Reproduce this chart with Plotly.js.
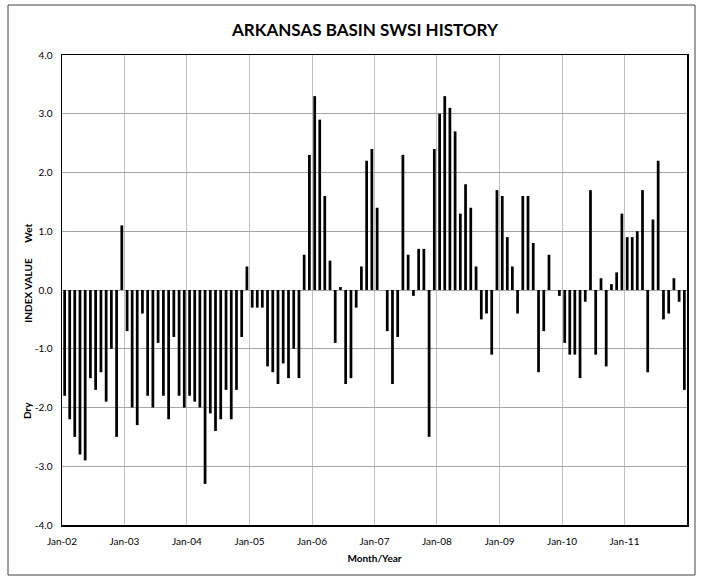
<!DOCTYPE html>
<html>
<head>
<meta charset="utf-8">
<script src="https://cdn.plot.ly/plotly-3.0.1.min.js"></script>
<style>
  html, body { margin: 0; padding: 0; background: #ffffff; }
  #chart { width: 702px; height: 581px; }
</style>
</head>
<body>
<div id="chart"></div>
<script>
// Monthly SWSI values, January..December of each year
var swsi2002 = [-1.8, -2.2, -2.5, -2.8, -2.9, -1.5, -1.7, -1.4, -1.9, -1.0, -2.5, 1.1];
var swsi2003 = [-0.7, -2.0, -2.3, -0.4, -1.8, -2.0, -0.9, -1.8, -2.2, -0.8, -1.8, -2.0];
var swsi2004 = [-1.8, -1.9, -2.0, -3.3, -2.1, -2.4, -2.2, -1.7, -2.2, -1.7, -0.8, 0.4];
var swsi2005 = [-0.3, -0.3, -0.3, -1.3, -1.4, -1.6, -1.25, -1.5, -1.0, -1.5, 0.6, 2.3];
var swsi2006 = [3.3, 2.9, 1.6, 0.5, -0.9, 0.05, -1.6, -1.5, -0.3, 0.4, 2.2, 2.4];
var swsi2007 = [1.4, 0.0, -0.7, -1.6, -0.8, 2.3, 0.6, -0.1, 0.7, 0.7, -2.5, 2.4];
var swsi2008 = [3.0, 3.3, 3.1, 2.7, 1.3, 1.8, 1.4, 0.4, -0.5, -0.4, -1.1, 1.7];
var swsi2009 = [1.6, 0.9, 0.4, -0.4, 1.6, 1.6, 0.8, -1.4, -0.7, 0.6, 0.0, -0.1];
var swsi2010 = [-0.9, -1.1, -1.1, -1.5, -0.2, 1.7, -1.1, 0.2, -1.3, 0.1, 0.3, 1.3];
var swsi2011 = [0.9, 0.9, 1.0, 1.7, -1.4, 1.2, 2.2, -0.5, -0.4, 0.2, -0.2, -1.7];

var years = [2002, 2003, 2004, 2005, 2006, 2007, 2008, 2009, 2010, 2011];
var monthNums = ["01","02","03","04","05","06","07","08","09","10","11","12"];
var tickLabels = ["Jan-02","Jan-03","Jan-04","Jan-05","Jan-06","Jan-07","Jan-08","Jan-09","Jan-10","Jan-11"];
var yTickLabels = ["-4.0","-3.0","-2.0","-1.0","0.0","1.0","2.0","3.0","4.0"];
var yTickVals = [-4, -3, -2, -1, 0, 1, 2, 3, 4];

var yearSeries = [swsi2002, swsi2003, swsi2004, swsi2005, swsi2006, swsi2007, swsi2008, swsi2009, swsi2010, swsi2011];

var xs = [], ys = [];
years.forEach(function (yr, i) {
  monthNums.forEach(function (m, j) {
    xs.push(yr + "-" + m + "-01");
    ys.push(yearSeries[i][j]);
  });
});
var tickVals = years.map(function (yr) { return yr + "-01-01"; });

var FONT = "Lato, Open Sans, Liberation Sans, Arial, sans-serif";

var trace = {
  type: "bar",
  x: xs,
  y: ys,
  xperiod: "M1",
  xperiodalignment: "middle",
  width: 16 * 24 * 3600 * 1000,
  marker: { color: "#000000", line: { width: 0 } },
  hoverinfo: "x+y"
};

var layout = {
  width: 702,
  height: 581,
  margin: { l: 62, r: 15, t: 55, b: 56 },
  paper_bgcolor: "#ffffff",
  plot_bgcolor: "#ffffff",
  showlegend: false,
  font: { family: FONT, size: 10, color: "#000000" },
  title: {
    text: "<b>ARKANSAS BASIN SWSI HISTORY</b>",
    font: { family: FONT, size: 17, color: "#000000" },
    x: 365 / 702, xref: "container", xanchor: "center",
    y: 1 - 30 / 581, yref: "container", yanchor: "middle"
  },
  xaxis: {
    type: "date",
    range: ["2002-01-01", "2012-01-01"],
    tickvals: tickVals,
    ticktext: tickLabels,
    tickfont: { family: FONT, size: 10 },
    showgrid: true,
    gridcolor: "#c0c0c0",
    gridwidth: 1,
    ticks: "",
    ticklabelstandoff: 6,
    showline: true,
    linecolor: "#000000",
    linewidth: 1.5,
    mirror: true,
    zeroline: false,
    title: { text: "<b>Month/Year</b>", font: { family: FONT, size: 10 }, standoff: 9 }
  },
  yaxis: {
    range: [-4, 4],
    tickvals: yTickVals,
    ticktext: yTickLabels,
    tickfont: { family: FONT, size: 10 },
    showgrid: true,
    gridcolor: "#a6a6a6",
    gridwidth: 1,
    ticks: "",
    ticklabelstandoff: 6,
    showline: true,
    linecolor: "#000000",
    linewidth: 1.5,
    mirror: true,
    zeroline: false
  },
  annotations: [
    { text: "<b>Dry</b>", xref: "paper", yref: "y", x: -0.055, y: -2.05, textangle: -90,
      showarrow: false, xanchor: "center", yanchor: "middle", font: { family: FONT, size: 10 } },
    { text: "<b>INDEX VALUE</b>", xref: "paper", yref: "y", x: -0.055, y: 0, textangle: -90,
      showarrow: false, xanchor: "center", yanchor: "middle", font: { family: FONT, size: 10 } },
    { text: "<b>Wet</b>", xref: "paper", yref: "y", x: -0.055, y: 0.97, textangle: -90,
      showarrow: false, xanchor: "center", yanchor: "middle", font: { family: FONT, size: 10 } }
  ],
  shapes: [
    { type: "rect", xref: "paper", yref: "paper",
      x0: (8 - 62) / 625, x1: (695 - 62) / 625, y0: (525 - 575) / 470, y1: (525 - 5) / 470,
      line: { color: "#404040", width: 1 }, fillcolor: "rgba(0,0,0,0)", layer: "below" }
  ]
};

Plotly.newPlot("chart", [trace], layout, { displayModeBar: false, staticPlot: true });
</script>
</body>
</html>
